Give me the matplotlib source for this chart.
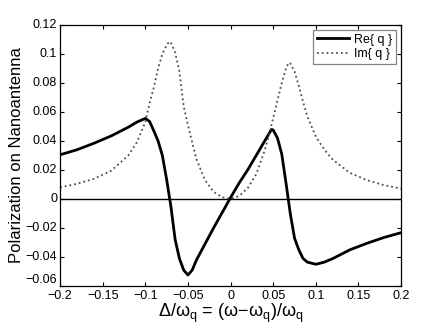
import matplotlib
matplotlib.use("Agg")
import matplotlib.pyplot as plt

plt.rcParams['font.family'] = ['Liberation Sans', 'DejaVu Sans']
plt.rcParams['mathtext.fontset'] = 'custom'
plt.rcParams['mathtext.rm'] = 'Liberation Sans'
plt.rcParams['mathtext.it'] = 'Liberation Sans'

x_re = [-0.2, -0.18, -0.16, -0.14, -0.12, -0.11, -0.1, -0.095, -0.09, -0.085, -0.08,
        -0.075, -0.07, -0.065, -0.06, -0.055, -0.05, -0.045, -0.04, -0.03, -0.02, -0.01,
        0.0, 0.01, 0.02, 0.03, 0.04, 0.045, 0.048, 0.05, 0.055, 0.06, 0.065, 0.07, 0.075,
        0.08, 0.085, 0.09, 0.1, 0.11, 0.12, 0.14, 0.16, 0.18, 0.2]
re_q = [0.0305, 0.034, 0.0385, 0.0435, 0.0495, 0.053, 0.0556, 0.0535, 0.047, 0.040, 0.030,
        0.0135, -0.005, -0.028, -0.041, -0.049, -0.0524, -0.049, -0.042, -0.031, -0.020, -0.0095,
        0.001, 0.011, 0.020, 0.030, 0.040, 0.045, 0.048, 0.0475, 0.042, 0.031, 0.011, -0.010, -0.027,
        -0.035, -0.041, -0.0435, -0.045, -0.0435, -0.041, -0.035, -0.0305, -0.0265, -0.0232]

x_im = [-0.2, -0.18, -0.16, -0.14, -0.12, -0.11, -0.1, -0.095, -0.09, -0.085, -0.08,
        -0.075, -0.072, -0.07, -0.065, -0.06, -0.055, -0.05, -0.045, -0.04, -0.03, -0.02, -0.01,
        0.0, 0.01, 0.02, 0.03, 0.04, 0.045, 0.05, 0.055, 0.06, 0.065, 0.068, 0.07, 0.075,
        0.08, 0.085, 0.09, 0.1, 0.11, 0.12, 0.14, 0.16, 0.18, 0.2]
im_q = [0.008, 0.0105, 0.014, 0.0195, 0.030, 0.039, 0.053, 0.066, 0.077, 0.090, 0.100,
        0.106, 0.1085, 0.108, 0.101, 0.088, 0.064, 0.051, 0.039, 0.0275, 0.013, 0.005, 0.0012,
        0.0002, 0.002, 0.0075, 0.017, 0.0335, 0.044, 0.056, 0.068, 0.080, 0.090, 0.094, 0.0935, 0.088,
        0.078, 0.067, 0.057, 0.043, 0.034, 0.027, 0.018, 0.013, 0.0095, 0.0072]

xticks = [-0.2, -0.15, -0.1, -0.05, 0, 0.05, 0.1, 0.15, 0.2]
xticklabels = ['\u22120.2', '\u22120.15', '\u22120.1', '\u22120.05', '0', '0.05', '0.1', '0.15', '0.2']
yticks = [-0.06, -0.04, -0.02, 0, 0.02, 0.04, 0.06, 0.08, 0.1, 0.12]
yticklabels = ['\u22120.06', '\u22120.04', '\u22120.02', '0', '0.02', '0.04', '0.06', '0.08', '0.1', '0.12']

fig = plt.figure(figsize=(4.43, 3.33), dpi=100)
ax = fig.add_axes([0.1355, 0.141, 0.77, 0.784])

ax.axhline(0, color='black', linewidth=1.0)
ax.plot(x_re, re_q, color='black', linewidth=2.0, label='Re{ q }')
ax.plot(x_im, im_q, color='0.3', linestyle=':', linewidth=1.3, label='Im{ q }')

ax.set_xlim(-0.2, 0.2)
ax.set_ylim(-0.06, 0.12)
ax.set_xticks(xticks)
ax.set_xticklabels(xticklabels)
ax.set_yticks(yticks)
ax.set_yticklabels(yticklabels)
ax.tick_params(direction='in', top=True, right=True, labelsize=9, length=3, width=0.8)
ax.tick_params(axis='x', pad=3)
ax.tick_params(axis='y', pad=2)
for lbl in ax.get_yticklabels():
    lbl.set_verticalalignment('center')
# lift the bottom y label slightly, as in the reference
ax.get_yticklabels()[0].set_verticalalignment('bottom')
for s in ax.spines.values():
    s.set_linewidth(0.9)

ax.set_ylabel('Polarization on Nanoantenna', fontsize=12, labelpad=1)
ax.set_xlabel(r'$\Delta/\omega_\mathrm{q}$ = $(\omega\!-\!\omega_\mathrm{q})/\omega_\mathrm{q}$', fontsize=13, labelpad=0)

leg = ax.legend(loc='upper right', fontsize=9, frameon=True, fancybox=False,
                edgecolor='0.4', borderpad=0.3, labelspacing=0.2, handlelength=2.6,
                handletextpad=0.4, borderaxespad=0.4)
leg.get_frame().set_linewidth(0.9)

fig.savefig('out.png', dpi=100)
